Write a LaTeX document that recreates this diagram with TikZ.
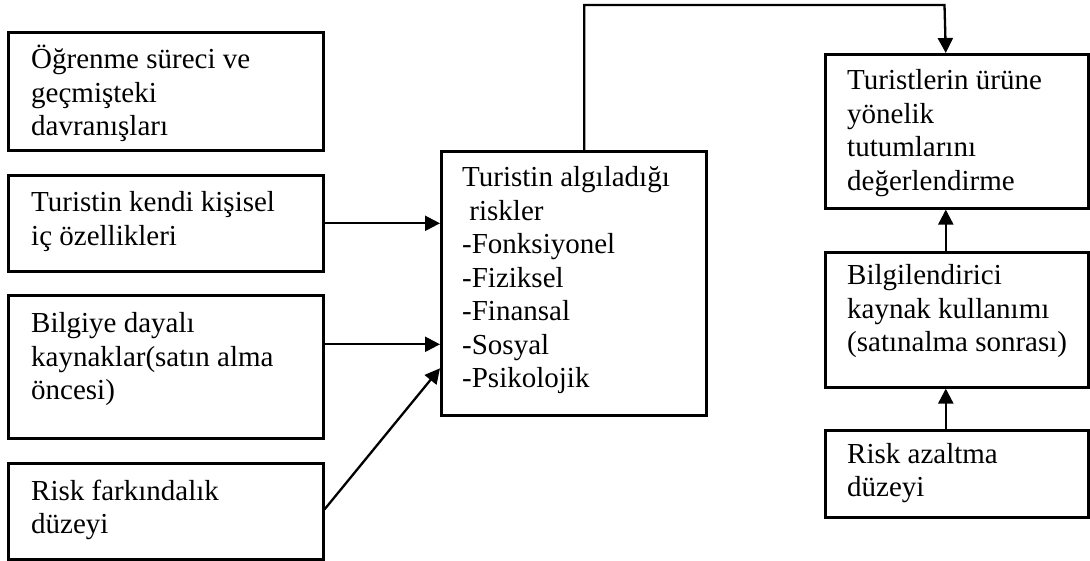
\documentclass[tikz,border=0pt]{standalone}
\usepackage{fontspec}
\setmainfont{Liberation Serif}
\usetikzlibrary{arrows.meta}
\begin{document}
\begin{tikzpicture}[x=1pt,y=-1pt,
  box/.style={draw, line width=2.6pt, anchor=north west, inner sep=0pt},
  lbl/.style={anchor=base west, inner sep=0pt, font=\fontsize{29}{33.5}\selectfont},
  arr/.style={line width=2.3pt, -{Triangle[length=15pt,width=15pt]}}]
\useasboundingbox (0,0) rectangle (1090,561);

% left column of factors
\node[box, minimum width=315, minimum height=118] (b1) at (7,31) {};
\node[box, minimum width=315, minimum height=96]  (b2) at (7,174) {};
\node[box, minimum width=315, minimum height=143] (b3) at (7,294) {};
\node[box, minimum width=315, minimum height=96]  (b4) at (7,462) {};

% perceived risks
\node[box, minimum width=265, minimum height=264] (c) at (440,150) {};

% right column
\node[box, minimum width=263, minimum height=154] (r1) at (824,53) {};
\node[box, minimum width=263, minimum height=135] (r2) at (824,251) {};
\node[box, minimum width=263, minimum height=87]  (r3) at (824,429) {};

% box texts
\node[lbl] (t1) at ([xshift=24pt,yshift=-38pt]b1.north west)
  {\begin{tabular}[t]{@{}l@{}}Öğrenme süreci ve\\geçmişteki\\davranışları\end{tabular}};
\node[lbl] (t2) at ([xshift=24pt,yshift=-38pt]b2.north west)
  {\begin{tabular}[t]{@{}l@{}}Turistin kendi kişisel\\iç özellikleri\end{tabular}};
\node[lbl] (t3) at ([xshift=24pt,yshift=-39pt]b3.north west)
  {\begin{tabular}[t]{@{}l@{}}Bilgiye dayalı\\kaynaklar(satın alma\\öncesi)\end{tabular}};
\node[lbl] (t4) at ([xshift=24pt,yshift=-38pt]b4.north west)
  {\begin{tabular}[t]{@{}l@{}}Risk farkındalık\\düzeyi\end{tabular}};
\node[lbl] (tc) at ([xshift=22pt,yshift=-37pt]c.north west)
  {\begin{tabular}[t]{@{}l@{}}Turistin algıladığı\\\ riskler\\-Fonksiyonel\\-Fiziksel\\-Finansal\\-Sosyal\\-Psikolojik\end{tabular}};
\node[lbl] (tr1) at ([xshift=23pt,yshift=-37pt]r1.north west)
  {\begin{tabular}[t]{@{}l@{}}Turistlerin ürüne\\yönelik\\tutumlarını\\değerlendirme\end{tabular}};
\node[lbl] (tr2) at ([xshift=23pt,yshift=-34pt]r2.north west)
  {\begin{tabular}[t]{@{}l@{}}Bilgilendirici\\kaynak kullanımı\\(satınalma sonrası)\end{tabular}};
\node[lbl] (tr3) at ([xshift=23pt,yshift=-34pt]r3.north west)
  {\begin{tabular}[t]{@{}l@{}}Risk azaltma\\düzeyi\end{tabular}};

% connectors into the risk box
\draw[arr] (b2.east) -- (b2.east -| c.west);
\draw[arr] ([yshift=22.5pt]b3.east) -- ([yshift=22.5pt]b3.east -| c.west);
\draw[arr] ([yshift=2pt]b4.east) -- ([yshift=-85pt]c.west);

% risk box to attitude evaluation
\coordinate (top) at (944.5,5);
\draw[arr] ([xshift=10.5pt]c.north) |- (top) -- ([xshift=-11pt]r1.north);

% right column chain
\draw[arr] ([xshift=-11pt]r2.north) -- ([xshift=-11pt]r1.south);
\draw[arr] ([xshift=-11pt]r3.north) -- ([xshift=-11pt]r2.south);
\end{tikzpicture}
\end{document}
